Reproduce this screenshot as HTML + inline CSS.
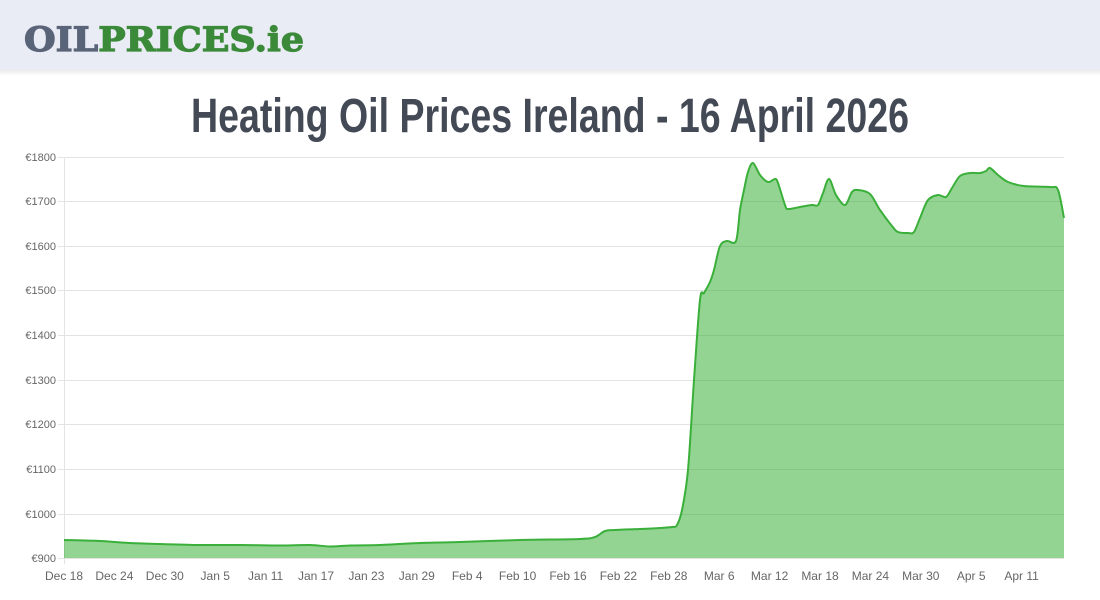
<!DOCTYPE html>
<html><head><meta charset="utf-8"><style>
html,body{margin:0;padding:0;background:#fff;width:1100px;height:600px;overflow:hidden}
</style></head><body>
<svg width="1100" height="600" viewBox="0 0 1100 600" xmlns="http://www.w3.org/2000/svg">
<defs><linearGradient id="sh" x1="0" y1="0" x2="0" y2="1"><stop offset="0" stop-color="#000" stop-opacity="0.08"/><stop offset="1" stop-color="#000" stop-opacity="0"/></linearGradient></defs>
<rect x="0" y="0" width="1100" height="70" fill="#e9ecf4"/>
<rect x="0" y="70" width="1100" height="6" fill="url(#sh)"/>
<text x="24" y="51" font-family="DejaVu Serif, serif" font-weight="bold" font-size="34" stroke-width="1.2" textLength="280" lengthAdjust="spacingAndGlyphs"><tspan fill="#5a6478" stroke="#5a6478">OIL</tspan><tspan fill="#3a8a3a" stroke="#3a8a3a">PRICES.ie</tspan></text>
<text x="550" y="132" text-anchor="middle" font-family="Liberation Sans Narrow, Liberation Sans, sans-serif" font-weight="bold" font-size="48" fill="#434a56" textLength="718" lengthAdjust="spacingAndGlyphs">Heating Oil Prices Ireland - 16 April 2026</text>
<g stroke="#e3e3e3" stroke-width="1">
<line x1="58" x2="1064" y1="157.5" y2="157.5"/><line x1="58" x2="1064" y1="201.5" y2="201.5"/><line x1="58" x2="1064" y1="246.5" y2="246.5"/><line x1="58" x2="1064" y1="290.5" y2="290.5"/><line x1="58" x2="1064" y1="335.5" y2="335.5"/><line x1="58" x2="1064" y1="380.5" y2="380.5"/><line x1="58" x2="1064" y1="424.5" y2="424.5"/><line x1="58" x2="1064" y1="469.5" y2="469.5"/><line x1="58" x2="1064" y1="514.5" y2="514.5"/><line x1="58" x2="1064" y1="558.5" y2="558.5"/>
<line x1="64.5" x2="64.5" y1="157" y2="564"/>
</g>
<g font-family="Liberation Sans, sans-serif" font-size="11" fill="#666" text-anchor="end">
<text x="56" y="161">€1800</text><text x="56" y="205">€1700</text><text x="56" y="250">€1600</text><text x="56" y="294">€1500</text><text x="56" y="339">€1400</text><text x="56" y="384">€1300</text><text x="56" y="428">€1200</text><text x="56" y="473">€1100</text><text x="56" y="518">€1000</text><text x="56" y="562">€900</text>
</g>
<g font-family="Liberation Sans, sans-serif" font-size="12" fill="#666" text-anchor="middle">
<text x="64" y="580">Dec 18</text><text x="114.4" y="580">Dec 24</text><text x="164.8" y="580">Dec 30</text><text x="215.2" y="580">Jan 5</text><text x="265.6" y="580">Jan 11</text><text x="316" y="580">Jan 17</text><text x="366.4" y="580">Jan 23</text><text x="416.8" y="580">Jan 29</text><text x="467.2" y="580">Feb 4</text><text x="517.6" y="580">Feb 10</text><text x="568" y="580">Feb 16</text><text x="618.4" y="580">Feb 22</text><text x="668.8" y="580">Feb 28</text><text x="719.2" y="580">Mar 6</text><text x="769.6" y="580">Mar 12</text><text x="820" y="580">Mar 18</text><text x="870.4" y="580">Mar 24</text><text x="920.8" y="580">Mar 30</text><text x="971.2" y="580">Apr 5</text><text x="1021.6" y="580">Apr 11</text>
</g>
<path id="area" fill="rgba(40,170,40,0.5)" stroke="none" d=""/>
<path id="line" fill="none" stroke="#3aaf3a" stroke-width="2" stroke-linejoin="round" d=""/>
</svg>
<script>
var p=[[64,540],[100,541],[130,543],[160,544],[200,545],[240,545],[280,545.5],[310,545],[330,546.5],[350,545.5],[380,545],[420,543],[460,542],[520,540],[580,539],[595,537],[605,531],[615,530],[640,529],[660,528],[672,527],[677,525],[682,510],[688,470],[694,380],[700,300],[704,293],[710,282],[714,270],[720,246],[727,241],[736,241],[740,210],[744,190],[748,172],[753,163],[760,175],[768,182],[775,179],[778,183],[785,205],[788,209],[800,207],[812,205],[818,205],[823,193],[829,179],[836,195],[845,205],[852,192],[858,190],[870,194],[880,210],[892,226],[898,232],[908,233],[914,232],[920,218],[928,200],[938,195],[946,197],[952,188],[960,176],[970,173],[980,173],[986,171],[990,168],[998,175],[1008,182],[1024,186],[1050,187],[1058,190],[1064,218]];
var d="M"+p[0][0]+","+p[0][1];
for(var i=0;i<p.length-1;i++){var a=p[i>0?i-1:0],b=p[i],c=p[i+1],e=p[i+2<p.length?i+2:i+1];
var t=0.16;
d+=" C"+(b[0]+(c[0]-a[0])*t)+","+(b[1]+(c[1]-a[1])*t)+" "+(c[0]-(e[0]-b[0])*t)+","+(c[1]-(e[1]-b[1])*t)+" "+c[0]+","+c[1];}
document.getElementById("line").setAttribute("d",d);
document.getElementById("area").setAttribute("d",d+" L1064,558 L64,558 Z");
</script>
</body></html>
